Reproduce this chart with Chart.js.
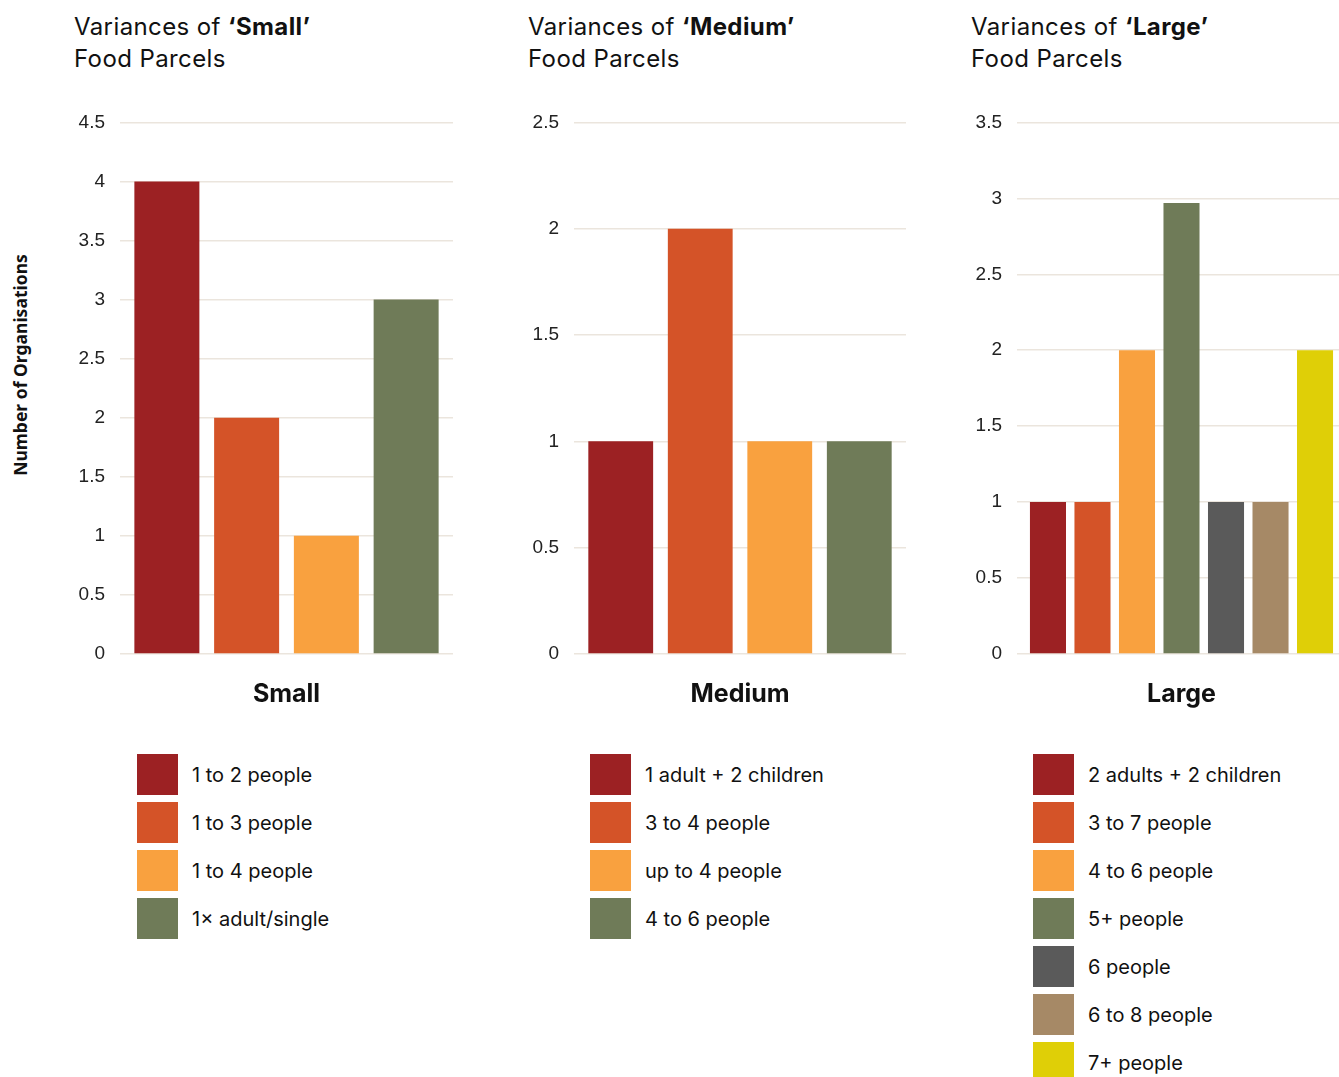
<!DOCTYPE html>
<html>
<head>
<meta charset="utf-8">
<script src="https://cdn.jsdelivr.net/npm/chart.js@4"></script>
<style>
  html, body { margin: 0; padding: 0; background: #fff; overflow: hidden; }
  body { width: 1339px; height: 1077px; position: relative; font-family: "Inter", "Noto Sans", sans-serif; color: #111; }
  .title { position: absolute; top: 11px; font-size: 24px; line-height: 32px; letter-spacing: 0.4px; font-weight: 400; white-space: nowrap; }
  .title b { font-weight: 700; }
  .box { position: absolute; }
  .legend { position: absolute; top: 754px; }
  .legend .item { height: 41px; margin-bottom: 7px; display: flex; align-items: center; }
  .legend .sw { width: 41px; height: 41px; margin-right: 14px; }
  .legend .lbl { font-size: 20px; }
  #ytitle { position: absolute; left: 20px; top: 365px; transform: translate(-50%, -50%) rotate(-90deg); font: 700 17.5px "Noto Sans", sans-serif; white-space: nowrap; }
</style>
</head>
<body>
<div class="title" style="left:74px">Variances of <b>‘Small’</b><br>Food Parcels</div>
<div class="title" style="left:528px">Variances of <b>‘Medium’</b><br>Food Parcels</div>
<div class="title" style="left:971px">Variances of <b>‘Large’</b><br>Food Parcels</div>
<div id="ytitle">Number of Organisations</div>

<div class="box" style="left:60px;top:96px;width:393px;height:624px"><canvas id="small"></canvas></div>
<div class="box" style="left:514px;top:96px;width:392px;height:624px"><canvas id="medium"></canvas></div>
<div class="box" style="left:957px;top:96px;width:389px;height:624px"><canvas id="large"></canvas></div>

<div class="legend" id="legSmall" style="left:137px"></div>
<div class="legend" id="legMedium" style="left:590px"></div>
<div class="legend" id="legLarge" style="left:1033px"></div>

<script>
// parcel size variants and how many organisations offer each
const smallLabels = ['1 to 2 people', '1 to 3 people', '1 to 4 people', '1× adult/single'];
const smallValues = [4, 2, 1, 3];
const smallColors = ['#9c2123', '#d45328', '#f9a13f', '#6f7b58'];

const mediumLabels = ['1 adult + 2 children', '3 to 4 people', 'up to 4 people', '4 to 6 people'];
const mediumValues = [1, 2, 1, 1];
const mediumColors = ['#9c2123', '#d45328', '#f9a13f', '#6f7b58'];

const largeLabels = ['2 adults + 2 children', '3 to 7 people', '4 to 6 people', '5+ people', '6 people', '6 to 8 people', '7+ people'];
const largeValues = [1, 1, 2, 2.97, 1, 1, 2];
const largeColors = ['#9c2123', '#d45328', '#f9a13f', '#6f7b58', '#5a5a5a', '#a68966', '#dfcf07'];

const gridColor = '#ebe5dd';

function makeChart(id, category, labels, values, colors, yMax, catPct, barPct){
  const datasets = labels.map((l, i) => ({
    label: l,
    data: [values[i]],
    backgroundColor: colors[i],
    borderWidth: 0,
    categoryPercentage: catPct,
    barPercentage: barPct
  }));
  return new Chart(document.getElementById(id), {
    type: 'bar',
    data: { labels: [category], datasets },
    options: {
      responsive: true,
      maintainAspectRatio: false,
      animation: false,
      layout: { padding: { top: 18, right: 0, bottom: 0, left: 0 } },
      plugins: { legend: { display: false }, tooltip: { enabled: false } },
      scales: {
        x: {
          grid: { display: false, drawTicks: false },
          border: { display: false },
          ticks: { color: '#111', padding: 25, font: { family: 'Inter', size: 25, weight: '700' } },
          afterFit: s => { s.height = 66; }
        },
        y: {
          min: 0, max: yMax,
          ticks: { stepSize: 0.5, color: '#222', padding: 15, font: { family: 'Liberation Sans', size: 19 },
                   callback: v => String(v) },
          grid: { color: gridColor, lineWidth: 1.5, drawTicks: false },
          border: { display: false },
          afterFit: s => { s.width = 60; }
        }
      }
    }
  });
}

function makeLegend(id, labels, colors){
  const el = document.getElementById(id);
  labels.forEach((l, i) => {
    const row = document.createElement('div');
    row.className = 'item';
    row.innerHTML = '<div class="sw" style="background:' + colors[i] + '"></div><div class="lbl"></div>';
    row.querySelector('.lbl').textContent = l;
    el.appendChild(row);
  });
}

makeChart('small', 'Small', smallLabels, smallValues, smallColors, 4.5, 0.958, 0.815);
makeChart('medium', 'Medium', mediumLabels, mediumValues, mediumColors, 2.5, 0.958, 0.815);
makeChart('large', 'Large', largeLabels, largeValues, largeColors, 3.5, 0.947, 0.81);

makeLegend('legSmall', smallLabels, smallColors);
makeLegend('legMedium', mediumLabels, mediumColors);
makeLegend('legLarge', largeLabels, largeColors);
</script>
</body>
</html>
